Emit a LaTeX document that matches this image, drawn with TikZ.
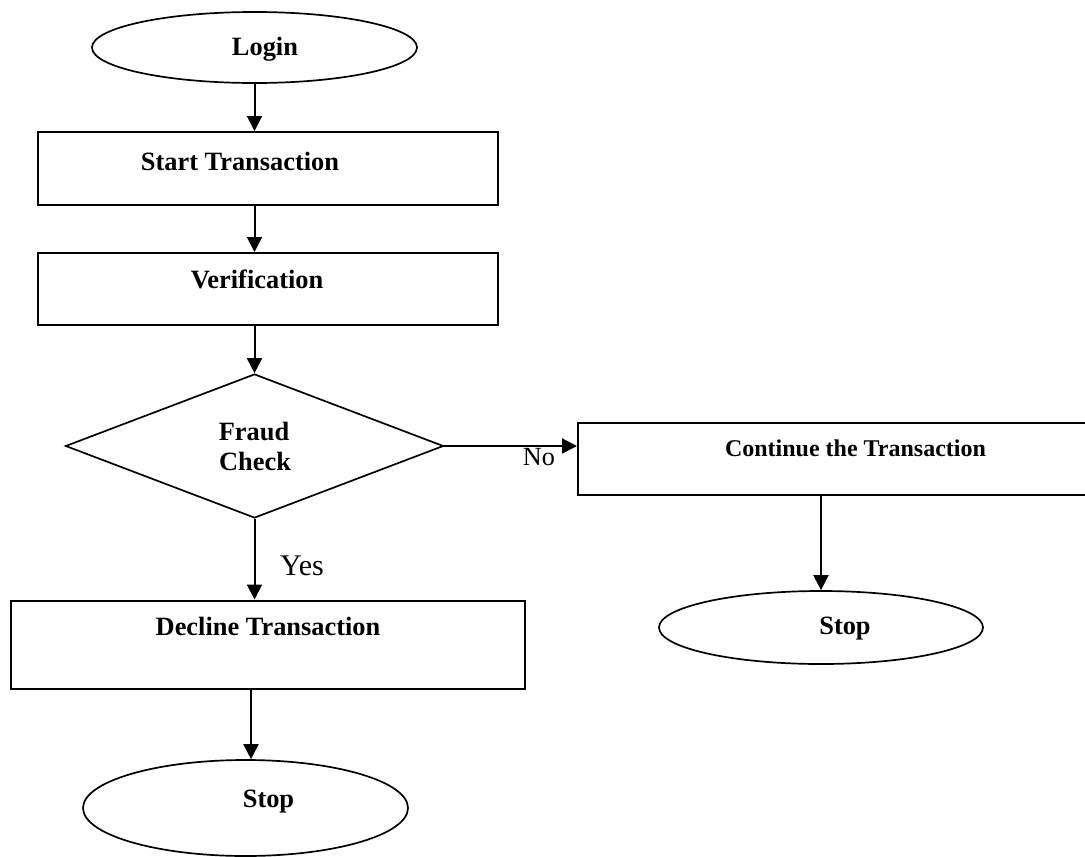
\documentclass[tikz,border=0pt]{standalone}
\usepackage{fontspec}
\setmainfont{Liberation Serif}
\usetikzlibrary{shapes.geometric,arrows.meta,calc}
\tikzset{
  box/.style={draw, line width=2pt, rectangle, inner sep=0pt},
  oval/.style={draw, line width=1.7pt, ellipse, inner sep=0pt},
  decide/.style={draw, line width=1.7pt, diamond, inner sep=0pt},
  lbl/.style={anchor=base, inner sep=0pt, font=\bfseries\fontsize{26.4}{32}\selectfont},
  slbl/.style={anchor=base, inner sep=0pt, font=\bfseries\fontsize{24}{29}\selectfont},
  rlbl/.style={anchor=base, inner sep=0pt, font=\fontsize{26.2}{32}\selectfont},
  flow/.style={line width=2pt, -{Triangle[length=15pt,width=15pt]}}
}
\begin{document}
\begin{tikzpicture}[x=1pt,y=-1pt]
\clip (0,0) rectangle (1085,857);
\fill[white] (0,0) rectangle (1085,857);
% shapes
\node[oval, minimum width=325pt, minimum height=71pt] (login) at (254.5,47.5) {};
\node[box, minimum width=460pt, minimum height=73pt] (start) at (268,168.5) {};
\node[box, minimum width=460pt, minimum height=72pt] (verif) at (268,289) {};
\node[decide, minimum width=378pt, minimum height=144pt] (fraud) at (254.5,446) {};
\node[box, minimum width=514pt, minimum height=72.5pt] (cont) at (835,458.75) {};
\node[oval, minimum width=324pt, minimum height=73pt] (stopr) at (821,627.5) {};
\node[box, minimum width=514pt, minimum height=88pt] (decline) at (268,644.5) {};
\node[oval, minimum width=325pt, minimum height=96pt] (stopb) at (245.5,808) {};
% texts
\node[lbl] (tlogin) at (265,55) {Login};
\node[lbl] (tstart) at (240,170) {Start Transaction};
\node[lbl] (tverif) at (257,288) {Verification};
\node[lbl] (tfraud) at (254,440) {Fraud};
\node[lbl] (tcheck) at (255,470) {Check};
\node[slbl] (tcont) at (855.5,456) {Continue the Transaction};
\node[lbl] (tstopr) at (845,634) {Stop};
\node[lbl] (tdecline) at (268,635) {Decline Transaction};
\node[lbl] (tstopb) at (268.5,807) {Stop};
\node[rlbl] (tno) at (539,465) {No};
\node[font=\fontsize{30}{36}\selectfont, anchor=base, inner sep=0pt] (tyes) at (302,575) {Yes};
% connectors
\coordinate (daxis) at (251,0);
\draw[flow] (fraud.north |- login.south) -- (fraud.north |- start.north);
\draw[flow] (fraud.north |- start.south) -- (fraud.north |- verif.north);
\draw[flow] (fraud.north |- verif.south) -- (fraud.north);
\draw[flow] (fraud.east) -- (fraud.east -| cont.west);
\draw[flow] (stopr.north |- cont.south) -- (stopr.north);
\draw[flow] (fraud.south) -- (fraud.south |- decline.north);
\draw[flow] (daxis |- decline.south) -- (daxis |- stopb.north);
\end{tikzpicture}
\end{document}
